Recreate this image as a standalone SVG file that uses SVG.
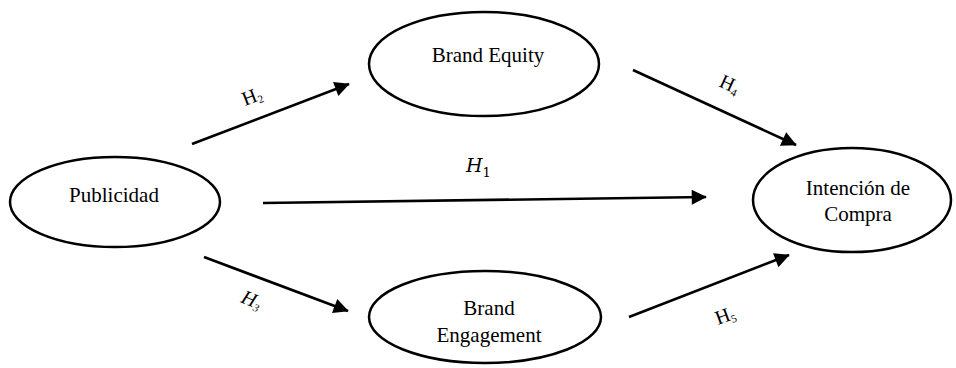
<svg xmlns="http://www.w3.org/2000/svg" width="956" height="368" viewBox="0 0 956 368">
  <style>
    .node ellipse { fill: #ffffff; stroke: #000000; stroke-width: 2.5; }
    .node text { font-family: "Liberation Serif", "Times New Roman", serif; font-size: 21px; fill: #000000; text-anchor: middle; }
    .edge line { stroke: #000000; stroke-width: 2.6; marker-end: url(#head); }
    .lbl { font-family: "Liberation Serif", "Times New Roman", serif; font-size: 20px; fill: #000000; }
    .lbl.it { font-style: italic; }
    .lbl tspan.sub { font-size: 11px; }
    .math { font-family: "DejaVu Serif", "Liberation Serif", serif; font-style: italic; font-size: 19px; fill: #000000; }
    .math tspan.sub { font-style: normal; font-size: 13px; }
  </style>
  <defs>
    <marker id="head" viewBox="0 0 10 10" refX="9.5" refY="5" markerUnits="userSpaceOnUse" markerWidth="19" markerHeight="15" orient="auto">
      <path d="M0,0 L10,5 L0,10 Z" fill="#000000"/>
    </marker>
  </defs>

  <rect width="956" height="368" fill="#ffffff"/>

  <g id="connectors" class="edge">
    <line x1="192" y1="144" x2="349" y2="84"/>
    <line x1="204" y1="257" x2="348" y2="311"/>
    <line x1="263" y1="203" x2="706" y2="197"/>
    <line x1="633" y1="70" x2="796" y2="145"/>
    <line x1="629" y1="317" x2="789" y2="255"/>
  </g>

  <g id="edge-labels">
    <text class="lbl" transform="translate(245,106) rotate(-21)">H<tspan class="sub" dy="3">2</tspan></text>
    <text class="lbl it" transform="translate(240,302) rotate(22)">H<tspan class="sub" dy="3">3</tspan></text>
    <text class="math" x="466" y="172">H<tspan class="sub" dy="5">1</tspan></text>
    <text class="lbl" transform="translate(718,86) rotate(25)">H<tspan class="sub" dy="3">4</tspan></text>
    <text class="lbl" transform="translate(718,325) rotate(-20)">H<tspan class="sub" dy="3">5</tspan></text>
  </g>

  <g id="publicidad" class="node">
    <ellipse cx="115" cy="202" rx="105" ry="45"/>
    <text x="114" y="202">Publicidad</text>
  </g>

  <g id="brand-equity" class="node">
    <ellipse cx="484" cy="64" rx="115" ry="52"/>
    <text x="488" y="62">Brand Equity</text>
  </g>

  <g id="brand-engagement" class="node">
    <ellipse cx="485" cy="317" rx="116" ry="46"/>
    <text x="489" y="315">Brand</text>
    <text x="489" y="342">Engagement</text>
  </g>

  <g id="intencion-compra" class="node">
    <ellipse cx="852" cy="200" rx="99" ry="52"/>
    <text x="858" y="195">Intención de</text>
    <text x="858" y="221">Compra</text>
  </g>
</svg>
